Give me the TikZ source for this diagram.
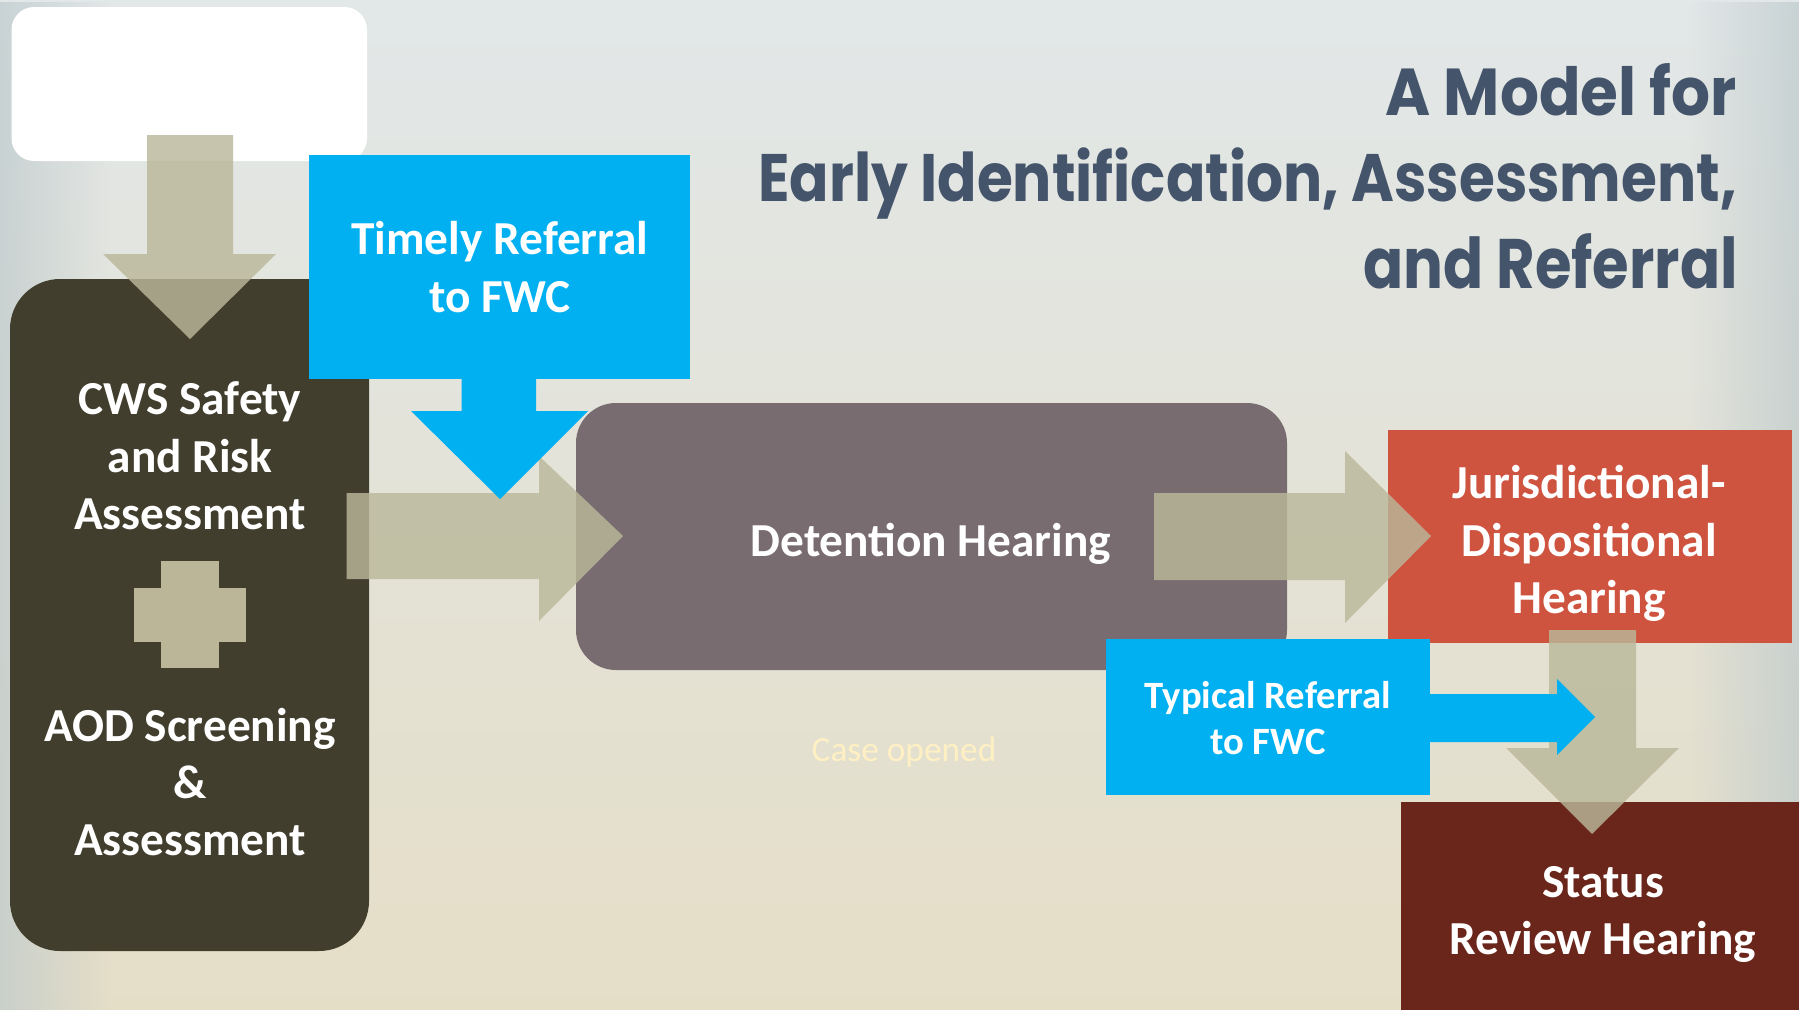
\documentclass[tikz,border=0pt]{standalone}
\usepackage{fontspec}
\usetikzlibrary{fadings}
\setmainfont{Carlito}
\newfontfamily\titlefont{Poppins}
\definecolor{bgtop}{RGB}{226,231,232}
\definecolor{bgmid}{RGB}{231,231,223}
\definecolor{bgbot}{RGB}{229,222,199}
\definecolor{edgec}{RGB}{190,202,204}
\definecolor{tanc}{RGB}{186,184,154}
\definecolor{plusc}{RGB}{187,182,152}
\definecolor{cwsc}{RGB}{66,62,46}
\definecolor{bluec}{RGB}{0,176,240}
\definecolor{detc}{RGB}{120,108,112}
\definecolor{redc}{RGB}{207,84,63}
\definecolor{statc}{RGB}{107,38,27}
\definecolor{titlec}{RGB}{68,84,106}
\definecolor{casec}{RGB}{255,240,196}
\begin{document}
\begin{tikzpicture}[x=0.75pt,y=-0.75pt,
  boxtext/.style={text=white,align=center,inner sep=0,font={\fontsize{35.5pt}{43pt}\selectfont\bfseries}},
  smalltext/.style={text=white,align=center,inner sep=0,font={\fontsize{29pt}{35pt}\selectfont\bfseries}},
  tanarrow/.style={fill=tanc,fill opacity=0.82},
  titleline/.style={anchor=base east,inner sep=0,text=titlec,font=\titlefont\bfseries}]
\useasboundingbox (0,0) rectangle (1799,1010);
\shade[top color=bgtop,middle color=bgmid,bottom color=bgbot] (0,0) rectangle (1799,1010);
\fill[edgec,path fading=east,opacity=0.7] (0,0) rectangle (110,1010);
\fill[edgec,path fading=west,opacity=0.7] (1689,0) rectangle (1799,1010);

% white box
\fill[white,rounded corners=17pt] (11.5,7) rectangle (367,161);
\coordinate (wb) at (189,84);

% CWS box
\fill[cwsc,rounded corners=37.5pt] (10,279) rectangle (369,951);
\coordinate (cws) at (189,615);
% plus
\fill[plusc] (161,561) rectangle (219,668);
\fill[plusc] (134,588) rectangle (246,642);
\node[boxtext] (cwstext) at (190,456) {CWS Safety\\and Risk\\Assessment};
\node[boxtext] (aodtext) at (190,782) {AOD Screening\\\&\\Assessment};

% tan down arrow 1
\fill[tanarrow] (147,135) -- (233,135) -- (233,254) -- (276,254) -- (190,339) -- (103,254) -- (147,254) -- cycle;

% Detention box
\fill[detc,rounded corners=30pt] (576,403) rectangle (1287,670);
\node[boxtext] (det) at (931,543.5) {Detention Hearing};

% tan right arrow 1
\fill[tanarrow] (346.5,493) -- (539,493) -- (539,456) -- (623,536) -- (539,621) -- (539,579) -- (346.5,579) -- cycle;

% Timely box and blue down arrow
\fill[bluec] (309,155) rectangle (690,379);
\node[boxtext] (timely) at (500,267) {Timely Referral\\to FWC};
\fill[bluec] (461.5,377) -- (536,377) -- (536,411) -- (588,411) -- (500,499) -- (411,411) -- (461.5,411) -- cycle;

% Red box
\fill[redc] (1388,430) rectangle (1792,643);
\node[boxtext] (jur) at (1589,543.5) {Jurisdictional-\\Dispositional\\Hearing};

% Status box
\fill[statc] (1401,802) rectangle (1799,1010);
\node[boxtext] (stat) at (1603,914.5) {Status\\Review Hearing};

% tan right arrow 2
\fill[tanarrow] (1154,493) -- (1345,493) -- (1345,451) -- (1431,536) -- (1345,623) -- (1345,580) -- (1154,580) -- cycle;

% tan down arrow 3
\fill[tanarrow] (1549,630) -- (1636,630) -- (1636,748) -- (1679,748) -- (1592,834) -- (1506,748) -- (1549,748) -- cycle;

% Typical box and blue right arrow
\fill[bluec] (1106,639) rectangle (1430,795);
\node[smalltext] (typ) at (1268,718) {Typical Referral\\to FWC};
\fill[bluec] (1429,694) -- (1557,694) -- (1557,679) -- (1595,717) -- (1557,755) -- (1557,742) -- (1429,742) -- cycle;

% faint label
\node[inner sep=0,text=casec,font={\fontsize{26.5pt}{32pt}\selectfont}] (case) at (904,752) {Case opened};

% title
\node[titleline] (t1) at (1737,115) {\resizebox{263pt}{39pt}{A Model for}};
\node[titleline] (t2) at (1737,201.7) {\resizebox{733.5pt}{40.3pt}{Early Identification, Assessment,}};
\node[titleline] (t3) at (1738,288) {\resizebox{280.5pt}{41.2pt}{and Referral}};
\end{tikzpicture}
\end{document}
